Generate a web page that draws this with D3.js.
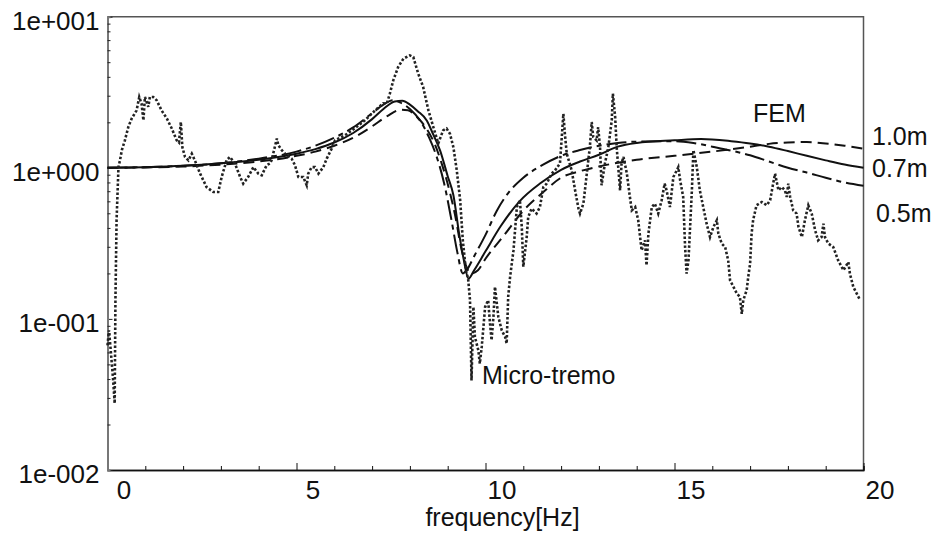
<!DOCTYPE html>
<html>
<head>
<meta charset="utf-8">
<script src="https://cdn.jsdelivr.net/npm/d3@7"></script>
<style>
    body { margin: 0; background: #fff; }
    svg { display: block; }
    text { font-family: "Liberation Sans", Arial, sans-serif; fill: #111; }
</style>
</head>
<body>
<svg id="chart" width="938" height="533"></svg>
<script>
/* Micro-tremor H/V spectrum vs FEM transfer functions (log amplitude) */

// measured micro-tremor ratio: [frequency Hz, amplitude]
const microTremor = [
    [0.00, 0.0668], [0.04, 0.0841], [0.09, 0.0601], [0.15, 0.0392], [0.19, 0.0276], [0.21, 0.133],
    [0.24, 0.45], [0.29, 1.01], [0.33, 1.12], [0.38, 1.31], [0.46, 1.52], [0.55, 1.86], [0.64, 2.12],
    [0.77, 2.40], [0.84, 2.94], [0.90, 2.66], [0.95, 2.06], [0.99, 2.94], [1.08, 2.53], [1.12, 2.94],
    [1.21, 2.94], [1.30, 2.80], [1.43, 2.40], [1.57, 2.12], [1.70, 1.82], [1.83, 1.52], [1.89, 1.47],
    [1.94, 2.01], [1.98, 1.37], [2.05, 1.18], [2.14, 1.12], [2.23, 1.24], [2.31, 1.12], [2.45, 0.915],
    [2.62, 0.746], [2.80, 0.691], [2.93, 0.691], [3.02, 0.869], [3.15, 1.12], [3.24, 1.18], [3.37, 1.07],
    [3.51, 0.869], [3.59, 0.786], [3.72, 0.869], [3.86, 1.01], [3.99, 0.915], [4.08, 0.892], [4.21, 1.04],
    [4.30, 1.07], [4.34, 1.12], [4.48, 1.56], [4.52, 1.41], [4.61, 1.31], [4.74, 1.21], [4.87, 1.15],
    [4.96, 1.04], [5.05, 0.869], [5.18, 0.869], [5.27, 0.766], [5.31, 0.915], [5.40, 1.01], [5.49, 1.01],
    [5.58, 0.915], [5.71, 1.01], [5.80, 1.15], [5.93, 1.34], [6.02, 1.52], [6.28, 1.64], [6.55, 1.83],
    [6.81, 2.06], [7.08, 2.40], [7.29, 2.67], [7.39, 2.66], [7.47, 3.10], [7.56, 3.79], [7.69, 4.65],
    [7.83, 5.28], [8.00, 5.55], [8.09, 5.41], [8.22, 4.20], [8.35, 3.43], [8.49, 2.40], [8.62, 1.86],
    [8.75, 1.45], [8.88, 1.77], [8.97, 1.82], [9.06, 1.68], [9.15, 1.37], [9.24, 0.962], [9.33, 0.610],
    [9.40, 0.331], [9.48, 0.210], [9.54, 0.185], [9.59, 0.133], [9.63, 0.0392], [9.68, 0.120],
    [9.72, 0.0759], [9.81, 0.0620], [9.85, 0.0506], [9.90, 0.0652], [9.99, 0.120], [10.07, 0.133],
    [10.12, 0.0931], [10.16, 0.0722], [10.21, 0.103], [10.25, 0.163], [10.34, 0.103], [10.43, 0.0841],
    [10.52, 0.0759], [10.56, 0.0687], [10.60, 0.140], [10.65, 0.189], [10.74, 0.284], [10.83, 0.550],
    [10.91, 0.610], [10.96, 0.406], [11.00, 0.221], [11.09, 0.348], [11.13, 0.472], [11.22, 0.537],
    [11.35, 0.498], [11.44, 0.550], [11.53, 0.746], [11.62, 0.786], [11.75, 0.915], [11.84, 0.962],
    [11.97, 1.07], [12.06, 2.28], [12.10, 1.68], [12.15, 1.24], [12.28, 0.962], [12.37, 0.710],
    [12.46, 0.537], [12.50, 0.498], [12.59, 0.580], [12.68, 0.915], [12.76, 1.37], [12.81, 2.01],
    [12.85, 1.60], [12.94, 1.52], [12.98, 1.86], [13.03, 1.37], [13.07, 0.766], [13.16, 1.07],
    [13.25, 1.37], [13.34, 2.06], [13.37, 3.10], [13.43, 2.17], [13.47, 1.37], [13.56, 0.710],
    [13.60, 1.07], [13.65, 1.18], [13.74, 0.915], [13.82, 0.641], [13.87, 0.523], [13.96, 0.550],
    [14.04, 0.450], [14.09, 0.348], [14.13, 0.284], [14.22, 0.331], [14.26, 0.226], [14.31, 0.367],
    [14.40, 0.550], [14.48, 0.580], [14.57, 0.498], [14.66, 0.610], [14.74, 0.786], [14.79, 0.710],
    [14.88, 0.550], [14.97, 0.869], [15.06, 0.962], [15.10, 1.01], [15.15, 0.827], [15.23, 0.641],
    [15.28, 0.299], [15.32, 0.1995], [15.37, 0.244], [15.46, 0.710], [15.50, 1.31], [15.59, 1.01],
    [15.67, 0.710], [15.76, 0.550], [15.85, 0.427], [15.94, 0.348], [16.03, 0.406], [16.12, 0.450],
    [16.16, 0.367], [16.25, 0.315], [16.34, 0.299], [16.42, 0.244], [16.47, 0.180], [16.56, 0.163],
    [16.65, 0.147], [16.73, 0.140], [16.78, 0.108], [16.82, 0.133], [16.91, 0.155], [16.95, 0.189],
    [17.00, 0.232], [17.04, 0.367], [17.08, 0.450], [17.17, 0.565], [17.31, 0.594], [17.44, 0.565],
    [17.53, 0.610], [17.61, 0.786], [17.66, 0.915], [17.75, 0.710], [17.84, 0.746], [17.92, 0.710],
    [17.97, 0.641], [18.01, 0.786], [18.06, 0.641], [18.14, 0.523], [18.23, 0.498], [18.28, 0.406],
    [18.37, 0.348], [18.45, 0.450], [18.54, 0.565], [18.63, 0.498], [18.72, 0.386], [18.80, 0.331],
    [18.89, 0.348], [18.94, 0.427], [18.98, 0.348], [19.07, 0.315], [19.20, 0.299], [19.33, 0.244],
    [19.47, 0.210], [19.60, 0.238], [19.64, 0.1995], [19.73, 0.163], [19.91, 0.133]
];

// FEM transfer functions for three layer thicknesses
const fem10 = [
    [0, 1.0], [2, 1.02], [3, 1.05], [4, 1.1], [5, 1.2], [5.5, 1.28], [6, 1.4], [6.5, 1.58], [7, 1.88],
    [7.4, 2.2], [7.75, 2.42], [7.95, 2.4], [8.2, 2.15], [8.45, 1.8], [8.65, 1.45], [8.85, 1.05],
    [9.05, 0.7], [9.2, 0.48], [9.35, 0.3], [9.5, 0.22], [9.62, 0.2], [9.8, 0.21], [10, 0.25],
    [10.5, 0.36], [11, 0.52], [11.5, 0.68], [12, 0.86], [12.5, 0.95], [13, 1.02], [13.5, 1.08],
    [14, 1.13], [15, 1.2], [16, 1.28], [17, 1.38], [17.5, 1.44], [18, 1.47], [18.5, 1.48], [19, 1.45],
    [19.5, 1.4], [20, 1.34]
];
const fem07 = [
    [0, 1.0], [1, 1.01], [2, 1.03], [3, 1.07], [4, 1.13], [5, 1.24], [5.5, 1.33], [6, 1.47], [6.5, 1.7],
    [7, 2.1], [7.3, 2.45], [7.6, 2.75], [7.8, 2.78], [8.0, 2.62], [8.2, 2.38], [8.45, 2.05], [8.6, 1.7],
    [8.8, 1.3], [9.0, 0.88], [9.15, 0.66], [9.3, 0.37], [9.42, 0.25], [9.55, 0.185], [9.7, 0.21],
    [10, 0.28], [10.4, 0.41], [10.9, 0.6], [11.45, 0.79], [12, 0.97], [12.5, 1.1], [13, 1.22],
    [13.5, 1.38], [14, 1.46], [15, 1.52], [15.7, 1.55], [16.5, 1.5], [17, 1.45], [17.5, 1.38],
    [18, 1.29], [18.5, 1.2], [19, 1.12], [19.5, 1.05], [20, 1.0]
];
const fem05 = [
    [0, 1.0], [2, 1.03], [3, 1.07], [4, 1.15], [5, 1.28], [5.5, 1.4], [6, 1.58], [6.5, 1.85], [7, 2.3],
    [7.3, 2.62], [7.55, 2.8], [7.75, 2.7], [8.0, 2.45], [8.3, 2.0], [8.5, 1.6], [8.7, 1.2], [8.9, 0.8],
    [9.1, 0.45], [9.25, 0.28], [9.4, 0.2], [9.5, 0.21], [9.7, 0.26], [10, 0.36], [10.3, 0.52],
    [10.6, 0.68], [11, 0.86], [11.5, 1.04], [12, 1.2], [12.5, 1.31], [13, 1.4], [13.5, 1.46],
    [14, 1.49], [15, 1.5], [15.5, 1.46], [16, 1.38], [16.5, 1.3], [17, 1.21], [17.5, 1.1], [18, 1.0],
    [18.5, 0.93], [19, 0.86], [19.5, 0.8], [20, 0.76]
];

const xMajorTicks = [0, 5, 10, 15, 20];
const xMinorTicks = [1, 2, 3, 4, 6, 7, 8, 9, 11, 12, 13, 14, 16, 17, 18, 19];
const yMajorTicks = [0.01, 0.1, 1, 10];

const svg = d3.select('#chart');
const x = d3.scaleLinear().domain([0, 20]).range([107.5, 863.5]);
const y = d3.scaleLog().domain([0.01, 10]).range([470, 16.7]);

const yMinorTicks = [];
[0.01, 0.1, 1].forEach((base) => {
    for (let k = 2; k <= 9; k++) yMinorTicks.push(base * k);
});

const expLabel = (d) => {
    const e = Math.round(Math.log10(d));
    return '1e' + (e < 0 ? '-' : '+') + String(Math.abs(e)).padStart(3, '0');
};

// frame (top/right)
svg.append('path')
    .attr('d', `M${x(0)},${y(10)} H${x(20)} V${y(0.01)}`)
    .attr('fill', 'none')
    .attr('stroke', '#555')
    .attr('stroke-width', 1.5);

// axes
const xAxis = svg.append('g').attr('transform', `translate(0,${y(0.01)})`);
xAxis.call(d3.axisBottom(x).tickValues(xMajorTicks).tickSize(-7).tickSizeOuter(0));
xAxis.append('g').call(d3.axisBottom(x).tickValues(xMinorTicks).tickSize(-4).tickFormat(''));
xAxis.selectAll('.domain').attr('stroke', '#111').attr('stroke-width', 1.5);
xAxis.selectAll('.tick line').attr('stroke', '#111');
xAxis.selectAll('.tick text')
    .attr('font-size', 26)
    .attr('dx', 16)
    .attr('y', 11)
    .attr('dy', '0.71em')
    .style('font-family', '"Liberation Sans", Arial, sans-serif')
    .attr('fill', '#111');

const yAxis = svg.append('g').attr('transform', `translate(${x(0)},0)`);
yAxis.call(d3.axisLeft(y).tickValues(yMajorTicks).tickFormat(expLabel).tickSize(-5).tickSizeOuter(0));
yAxis.append('g').call(d3.axisLeft(y).tickValues(yMinorTicks).tickSize(-3).tickFormat(''));
yAxis.selectAll('.domain').attr('stroke', '#777').attr('stroke-width', 2);
yAxis.selectAll('.tick line').attr('stroke', '#222');
yAxis.selectAll('.tick text')
    .attr('font-size', 26)
    .attr('x', -8)
    .attr('dy', '0.48em')
    .style('font-family', '"Liberation Sans", Arial, sans-serif')
    .attr('fill', '#111');

const line = d3.line().x((d) => x(d[0])).y((d) => y(d[1]));
const smooth = d3.line().x((d) => x(d[0])).y((d) => y(d[1])).curve(d3.curveMonotoneX);

const series = [
    { data: fem10, dash: '11,6', path: smooth },
    { data: fem07, dash: null, path: smooth },
    { data: fem05, dash: '20,5,5,5', path: smooth },
    { data: microTremor, dash: '2.5,2', path: line, color: '#222', width: 2.6 },
];

svg.append('g')
    .selectAll('path')
    .data(series)
    .join('path')
    .attr('d', (d) => d.path(d.data))
    .attr('fill', 'none')
    .attr('stroke', (d) => d.color || '#111')
    .attr('stroke-width', (d) => d.width || 2)
    .attr('stroke-dasharray', (d) => d.dash);

// annotations
const notes = [
    { text: 'FEM', x: 753, y: 121.5 },
    { text: '1.0m', x: 872, y: 145 },
    { text: '0.7m', x: 872, y: 177 },
    { text: '0.5m', x: 876, y: 222 },
    { text: 'Micro-tremo', x: 482, y: 384 },
];
svg.append('g')
    .selectAll('text')
    .data(notes)
    .join('text')
    .attr('x', (d) => d.x)
    .attr('y', (d) => d.y)
    .attr('font-size', 25)
    .text((d) => d.text);

svg.append('text')
    .attr('x', x(10) + 17)
    .attr('y', 526)
    .attr('text-anchor', 'middle')
    .attr('font-size', 25)
    .text('frequency[Hz]');
</script>
</body>
</html>
